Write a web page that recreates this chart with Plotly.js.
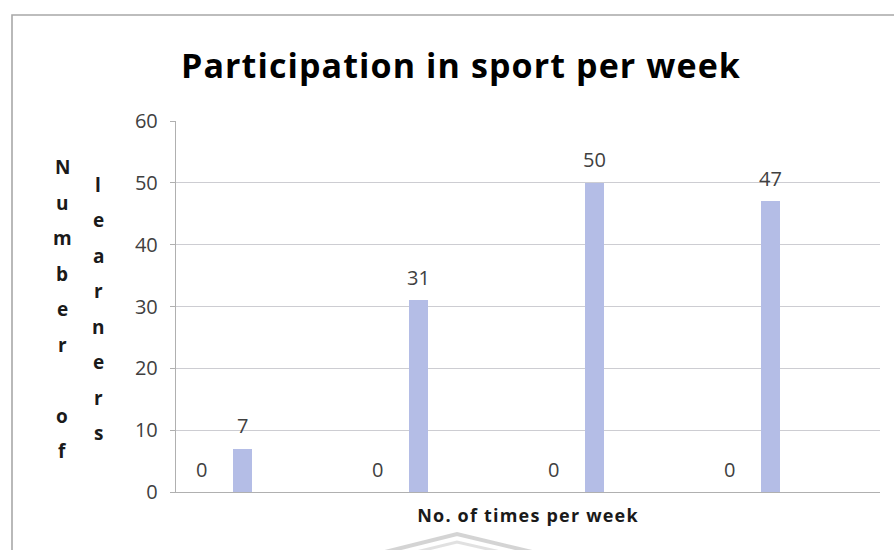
<!DOCTYPE html>
<html>
<head>
<meta charset="utf-8">
<script src="https://cdn.plot.ly/plotly-3.0.1.min.js"></script>
<style>
  html, body { margin: 0; padding: 0; background: #ffffff; }
  #chart { width: 894px; height: 550px; }
  /* slightly wider lettering for the two headline texts */
  #chart .gtitle { letter-spacing: 1.1px; }
  #chart .xtitle { letter-spacing: 1.2px; }
</style>
</head>
<body>
<div id="chart"></div>
<script>
// Weekly sport participation: learners per category
const categories = ['1', '2', '3', '4'];
const seriesZero = [0, 0, 0, 0];
const seriesLearners = [7, 31, 50, 47];
const yTicks = [0, 10, 20, 30, 40, 50, 60];

const chartTitle = 'Participation in sport per week';
const xTitle = 'No. of times per week';
const yTitleColumns = ['Number of', 'learners'];

// Plot frame geometry (pixels)
const W = 894, H = 550;
const M = { l: 176, r: 14, t: 121, b: 58 };
const PW = W - M.l - M.r, PH = H - M.t - M.b;
const px2x = px => (px - M.l) / PW;
const py2y = py => 1 - (py - M.t) / PH;

const FONT = '"Open Sans", Lato, sans-serif';
const TEXT_GREY = '#404040';
const BAR_COLOR = '#b4bde6';

// bar slots inside each category (category units)
const barWidth = 0.108;
const zeroOffset = -0.407;
const learnersOffset = -0.179;

const traces = [
  {
    type: 'bar', x: categories, y: seriesZero, name: 'A',
    width: barWidth, offset: zeroOffset,
    marker: { color: BAR_COLOR }, hoverinfo: 'y'
  },
  {
    type: 'bar', x: categories, y: seriesLearners, name: 'B',
    width: barWidth, offset: learnersOffset,
    marker: { color: BAR_COLOR }, hoverinfo: 'y'
  }
];

const annotations = [];

// value labels above each bar
function addValueLabels(values, offset) {
  values.forEach((v, i) => {
    annotations.push({
      xref: 'x', yref: 'y', x: i + offset + barWidth / 2, y: v,
      text: String(v), showarrow: false,
      xanchor: 'center', yanchor: 'middle', yshift: 23,
      font: { family: FONT, size: 20, color: TEXT_GREY }
    });
  });
}
addValueLabels(seriesZero, zeroOffset);
addValueLabels(seriesLearners, learnersOffset);

// stacked y-axis title, letters written top to bottom in two columns
const colX = [62, 98];
const letterStep = 35.5;
yTitleColumns.forEach((word, c) => {
  const letters = word.split('');
  const mid = (letters.length - 1) / 2;
  letters.forEach((ch, k) => {
    if (ch === ' ') return;
    annotations.push({
      xref: 'paper', yref: 'paper', x: px2x(colX[c]), y: py2y(309),
      yshift: (mid - k) * letterStep,
      text: '<b>' + ch + '</b>', showarrow: false,
      xanchor: 'center', yanchor: 'middle',
      font: { family: FONT, size: 19, color: '#1a1a1a' }
    });
  });
});

const shapes = [
  // outer chart frame
  {
    type: 'rect', xref: 'paper', yref: 'paper', layer: 'below',
    x0: px2x(12), x1: px2x(910), y0: py2y(570), y1: py2y(15),
    line: { color: '#a8a8a8', width: 1.6 }, fillcolor: 'rgba(0,0,0,0)'
  },
  // faint emblem strokes below the axis title
  {
    type: 'path', xref: 'paper', yref: 'paper', layer: 'below',
    path: `M ${px2x(385)} ${py2y(552)} L ${px2x(457)} ${py2y(534)} L ${px2x(532)} ${py2y(552)}`,
    line: { color: 'rgba(160,160,160,0.45)', width: 4 }
  },
  {
    type: 'path', xref: 'paper', yref: 'paper', layer: 'below',
    path: `M ${px2x(412)} ${py2y(553)} L ${px2x(457)} ${py2y(542)} L ${px2x(505)} ${py2y(553)}`,
    line: { color: 'rgba(170,170,170,0.35)', width: 3 }
  }
];

const layout = {
  width: W, height: H,
  margin: M,
  paper_bgcolor: '#ffffff', plot_bgcolor: '#ffffff',
  showlegend: false,
  title: {
    text: '<b>' + chartTitle + '</b>',
    x: 461 / W, xanchor: 'center',
    y: 1 - 66 / H, yanchor: 'middle', yref: 'container',
    font: { family: FONT, size: 34, color: '#000000' }
  },
  xaxis: {
    type: 'category',
    range: [-0.5, categories.length - 0.5],
    showticklabels: false, ticks: '',
    showgrid: false, zeroline: false,
    showline: true, linecolor: '#b0b0b0', linewidth: 1.2,
    fixedrange: true,
    title: {
      text: '<b>' + xTitle + '</b>', standoff: 17,
      font: { family: FONT, size: 18, color: '#1a1a1a' }
    }
  },
  yaxis: {
    range: [0, 60], tickvals: yTicks, ticktext: yTicks.map(String),
    showgrid: true, gridcolor: '#cdcdd2', gridwidth: 1,
    zeroline: false,
    showline: true, linecolor: '#b0b0b0', linewidth: 1.2,
    ticks: 'outside', ticklen: 5, tickcolor: '#b0b0b0',
    tickfont: { family: FONT, size: 20, color: TEXT_GREY },
    ticklabelstandoff: 8,
    fixedrange: true
  },
  bargap: 0,
  annotations: annotations,
  shapes: shapes
};

Plotly.newPlot('chart', traces, layout, { displayModeBar: false, staticPlot: true });
</script>
</body>
</html>
